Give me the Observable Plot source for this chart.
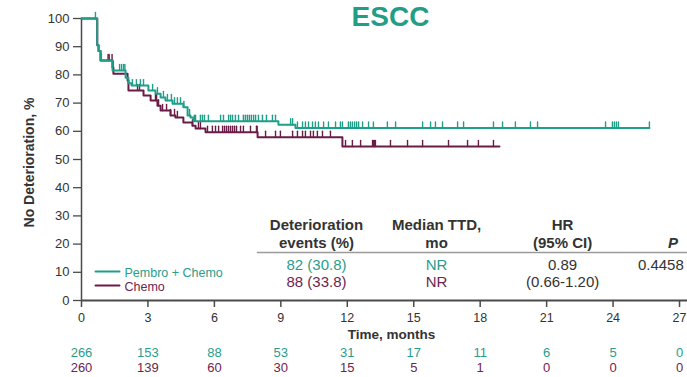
<!DOCTYPE html>
<html>
<head>
<meta charset="utf-8">
<script src="https://cdn.jsdelivr.net/npm/d3@7"></script>
<script src="https://cdn.jsdelivr.net/npm/@observablehq/plot@0.6"></script>
<style>
  html, body { margin: 0; padding: 0; background: #fff; }
  #chart svg { display: block; }
</style>
</head>
<body>
<div id="chart"></div>
<script>
// ---------- data ----------
const xTicks = [0, 3, 6, 9, 12, 15, 18, 21, 24, 27];
const yTicks = [0, 10, 20, 30, 40, 50, 60, 70, 80, 90, 100];

// Kaplan-Meier step points (months, % without deterioration)
const pembroTimes = [0, 0.71, 0.77, 0.86, 1.40, 1.99, 2.12, 2.26, 3.02, 3.34, 3.57, 3.79, 4.11, 4.60, 4.79, 4.92, 5.06, 8.89, 9.66, 25.64];
const pembroSurv  = [100, 90.5, 88.5, 85.1, 81.6, 79.0, 77.0, 76.2, 74.5, 73.3, 72.0, 70.9, 69.8, 68.5, 65.6, 64.9, 63.6, 62.3, 61.2, 61.2];
const chemoTimes  = [0, 0.71, 0.77, 0.86, 1.40, 1.44, 2.08, 2.12, 2.80, 3.12, 3.43, 3.57, 4.02, 4.24, 4.60, 5.01, 5.15, 5.60, 7.95, 11.78, 18.87];
const chemoSurv   = [100, 90.5, 88.5, 85.1, 82.6, 80.4, 78.0, 74.5, 72.7, 70.9, 69.1, 67.4, 65.6, 64.9, 63.1, 62.0, 61.0, 59.7, 57.9, 54.6, 54.6];

// censoring times (months)
const pembroCensor = [0.63, 0.90, 1.72, 1.81, 1.90, 1.96, 2.30, 2.48, 2.66, 2.80, 3.21, 3.43, 3.70, 3.88, 4.06, 4.20, 4.33, 4.47, 4.62, 4.88, 5.10, 5.15,
  5.37, 5.46, 5.55, 5.73, 6.28, 6.41, 6.64, 6.73, 6.82, 6.95, 7.09, 7.31, 7.40, 7.49, 7.58, 7.67, 7.77, 7.86, 7.99, 8.17, 8.35, 8.62, 8.76,
  9.44, 9.53, 9.75, 9.98, 10.11, 10.25, 10.43, 10.56, 10.70, 10.93, 11.15, 11.47, 11.69, 11.78, 12.05, 12.14, 12.23, 12.33, 12.42, 12.51,
  12.69, 12.96, 13.18, 13.81, 14.18, 15.40, 15.76, 15.98, 16.30, 16.98, 17.25, 18.60, 19.01, 19.59, 20.27, 20.59, 23.66, 23.97, 24.06,
  24.15, 24.24, 25.64];
const chemoCensor = [1.20, 1.25, 1.38, 1.42, 2.53, 2.62, 3.34, 3.39, 3.48, 3.66, 3.84, 4.02, 4.20, 4.33, 5.01, 5.28, 5.37, 5.69, 5.91, 6.05,
  6.19, 6.37, 6.46, 6.55, 6.64, 6.73, 6.82, 6.91, 7.00, 7.18, 7.31, 7.63, 7.90, 7.93, 8.31, 8.76, 8.98, 9.53, 9.75, 9.98, 10.11, 10.34,
  10.47, 10.65, 10.88, 11.24, 11.92, 12.23, 12.60, 13.14, 13.18, 13.23, 13.27, 13.95, 14.72, 15.40, 16.57, 17.43, 17.92, 18.60];

// number at risk
const riskTimes  = [0, 3, 6, 9, 12, 15, 18, 21, 24, 27];
const riskPembro = [266, 153, 88, 53, 31, 17, 11, 6, 5, 0];
const riskChemo  = [260, 139, 60, 30, 15, 5, 1, 0, 0, 0];

// summary table
const tableColumns  = [10.61, 16.03, 21.72, 26.70];   // column centres on the time axis (months)
const tableHeader1  = ["Deterioration", "Median TTD,", "HR", ""];
const tableHeader2  = ["events (%)", "mo", "(95% CI)", ""];
const pHeader       = "P";
const tablePembro   = ["82 (30.8)", "NR", "0.89", ""];
const tableChemo    = ["88 (33.8)", "NR", "(0.66-1.20)", ""];
const pValue        = "0.4458";
const pValueStart   = 25.12;

const seriesNames = ["Pembro + Chemo", "Chemo"];
const title = "ESCC";
const xLabel = "Time, months";
const yLabel = "No Deterioration, %";

// ---------- styles ----------
const TEAL = "#1f9e88";
const TEAL_TXT = "#2a9d8c";
const PURPLE = "#6a1c48";
const PURPLE_TXT = "#6e2550";
const DARK = "#333333";
const AXIS = "#4a4a4a";

// ---------- derived ----------
const toSteps = (ts, ss) => ts.map((t, i) => ({t, s: ss[i]}));
const pembroSteps = toSteps(pembroTimes, pembroSurv);
const chemoSteps = toSteps(chemoTimes, chemoSurv);
const survAt = (steps, t) => {
  let s = steps[0].s;
  for (const d of steps) { if (d.t <= t) s = d.s; else break; }
  return s;
};
const pembroCens = pembroCensor.map(t => ({t, s: survAt(pembroSteps, t)}));
const chemoCens = chemoCensor.map(t => ({t, s: survAt(chemoSteps, t)}));
const riskP = riskTimes.map((t, i) => ({t, n: String(riskPembro[i])}));
const riskC = riskTimes.map((t, i) => ({t, n: String(riskChemo[i])}));

const row = (labels, fills) => tableColumns.map((x, i) => ({x, label: labels[i], fill: fills[i]})).filter(d => d.label);

const tickShape = {draw(context, l) { context.moveTo(0, 0); context.lineTo(0, -l); }};

const chart = Plot.plot({
  width: 687,
  height: 377,
  marginLeft: 81,
  marginRight: 0,
  marginTop: 18,
  marginBottom: 77,
  style: {fontFamily: "'Liberation Sans', Arial, sans-serif", fontSize: "12px", color: DARK, background: "#fff", overflow: "visible"},
  x: {domain: [0, 27.36]},
  y: {domain: [0, 100]},
  color: {type: "identity"},
  marks: [
    Plot.axisY({ticks: yTicks, tickSize: 8, tickPadding: 4, label: null, fontSize: 13, stroke: AXIS, strokeWidth: 1.3}),
    Plot.axisX({ticks: xTicks, tickSize: 7, tickPadding: 6, label: null, fontSize: 12.5, stroke: AXIS, strokeWidth: 1.5}),
    Plot.ruleX([0], {stroke: AXIS, strokeWidth: 1.5}),
    Plot.ruleY([0], {stroke: AXIS, strokeWidth: 2}),

    // KM curves
    Plot.line(chemoSteps, {x: "t", y: "s", curve: "step-after", stroke: PURPLE, strokeWidth: 2}),
    Plot.vector(chemoCens, {x: "t", y: "s", length: 6, rotate: 0, anchor: "start", shape: tickShape, stroke: PURPLE, strokeWidth: 1.4}),
    Plot.line(pembroSteps, {x: "t", y: "s", curve: "step-after", stroke: TEAL, strokeWidth: 2}),
    Plot.vector(pembroCens, {x: "t", y: "s", length: 6, rotate: 0, anchor: "start", shape: tickShape, stroke: TEAL, strokeWidth: 1.4}),

    // title & axis labels
    Plot.text([title], {frameAnchor: "top", dx: 6, dy: -1, lineAnchor: "middle", fontSize: 28, fontWeight: "bold", fill: TEAL}),
    Plot.text([xLabel], {frameAnchor: "bottom", dx: 7, dy: 34, lineAnchor: "middle", fontSize: 13.5, fontWeight: "bold", fill: DARK, letterSpacing: "0.6px"}),
    Plot.text([yLabel], {frameAnchor: "left", dx: -52, dy: 3, rotate: -90, lineAnchor: "middle", textAnchor: "middle", fontSize: 14, fontWeight: "bold", fill: DARK, letterSpacing: "0.7px"}),

    // number at risk
    Plot.text(riskP, {x: "t", text: "n", frameAnchor: "bottom", dy: 52, lineAnchor: "middle", fill: TEAL_TXT, fontSize: 13}),
    Plot.text(riskC, {x: "t", text: "n", frameAnchor: "bottom", dy: 67, lineAnchor: "middle", fill: PURPLE_TXT, fontSize: 13}),

    // legend
    Plot.vector([seriesNames[0]], {frameAnchor: "bottom-left", dx: 14, dy: -29, length: 24, rotate: 90, anchor: "start", shape: tickShape, stroke: TEAL, strokeWidth: 2}),
    Plot.vector([seriesNames[1]], {frameAnchor: "bottom-left", dx: 14, dy: -15, length: 24, rotate: 90, anchor: "start", shape: tickShape, stroke: PURPLE, strokeWidth: 2}),
    Plot.text([seriesNames[0]], {frameAnchor: "bottom-left", dx: 43, dy: -28, lineAnchor: "middle", textAnchor: "start", fill: TEAL_TXT, fontSize: 12.5}),
    Plot.text([seriesNames[1]], {frameAnchor: "bottom-left", dx: 43, dy: -14, lineAnchor: "middle", textAnchor: "start", fill: PURPLE_TXT, fontSize: 12.5}),

    // summary table
    Plot.text(row(tableHeader1, [DARK, DARK, DARK, DARK]), {x: "x", text: "label", frameAnchor: "bottom", dy: -75, lineAnchor: "middle", fontSize: 15, fontWeight: "bold", fill: "fill"}),
    Plot.text(row(tableHeader2, [DARK, DARK, DARK, DARK]), {x: "x", text: "label", frameAnchor: "bottom", dy: -57, lineAnchor: "middle", fontSize: 15, fontWeight: "bold", fill: "fill"}),
    Plot.text([pHeader], {x: () => tableColumns[3], frameAnchor: "bottom", dy: -57, lineAnchor: "middle", fontSize: 15, fontWeight: "bold", fontStyle: "italic", fill: DARK}),
    Plot.vector(["rule"], {frameAnchor: "bottom-right", dy: -48, length: 430, rotate: -90, anchor: "start", shape: tickShape, stroke: "#9a9a9a", strokeWidth: 1.5}),
    Plot.text(row(tablePembro, [TEAL_TXT, TEAL_TXT, DARK, DARK]), {x: "x", text: "label", frameAnchor: "bottom", dy: -35, lineAnchor: "middle", fontSize: 15, fill: "fill"}),
    Plot.text(row(tableChemo, [PURPLE_TXT, PURPLE_TXT, DARK, DARK]), {x: "x", text: "label", frameAnchor: "bottom", dy: -18, lineAnchor: "middle", fontSize: 15, fill: "fill"}),
    Plot.text([pValue], {x: () => pValueStart, frameAnchor: "bottom", dy: -35, lineAnchor: "middle", textAnchor: "start", fontSize: 15, fill: DARK})
  ]
});
document.getElementById("chart").appendChild(chart);
</script>
</body>
</html>
